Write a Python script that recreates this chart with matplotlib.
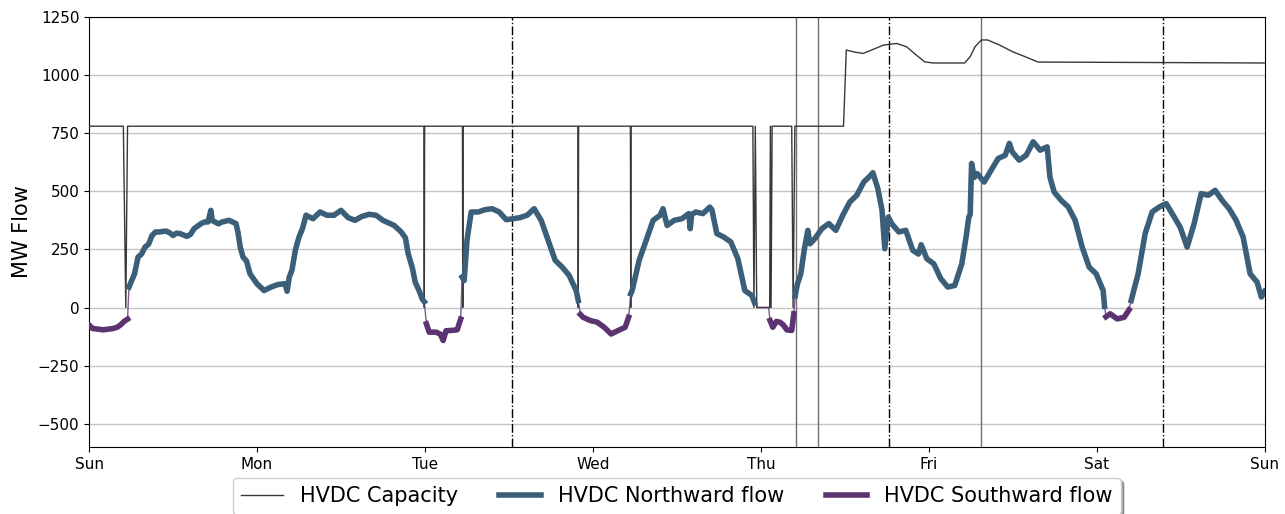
import numpy as np
import matplotlib.pyplot as plt

# hours since Sunday 00:00 and HVDC flow in MW (positive = northward)
flow_hours = [0, 0.5, 1, 2, 3, 3.5, 4, 4.5, 5, 5.5, 5.7, 6, 6.5, 7, 7.5, 8, 8.5, 9, 9.5, 10,
              11, 11.5, 12, 12.5, 13, 14, 14.5, 15, 16, 16.5, 17, 17.4, 17.6, 18, 18.5, 19, 20,
              20.5, 21, 21.3, 21.6, 22, 22.5, 23, 24, 25, 26, 27, 28, 28.3, 28.6, 29, 29.5, 30,
              30.5, 31, 32, 33, 34, 35, 36, 37, 38, 39, 40, 41, 42, 43.6, 44.6, 45.2, 45.6, 46.2,
              46.6, 47.2, 47.6, 47.9, 48.2, 48.6, 49.6, 50.2, 50.6, 51.0, 51.6, 52.6, 53.1, 53.3,
              53.6, 54.0, 54.6, 55.6, 56.6, 57.6, 58.6, 59.6, 60.6, 61.6, 62.6, 63.6, 64.6, 65.6,
              66.6, 67.6, 68.6, 69.6, 69.9, 70.2, 70.6, 71.6, 72.6, 73.6, 74.6, 75.6, 76.6, 77.1,
              77.4, 77.6, 78.6, 79.6, 80.6, 81.6, 82.0, 82.6, 83.6, 84.7, 85.7, 85.9, 86.1, 86.7,
              87.7, 88.7, 89.0, 89.7, 90.7, 91.7, 92.7, 93.7, 94.7, 95.1, 95.6, 97.1, 97.3, 97.7,
              98.2, 98.7, 99.2, 99.7, 100.4, 100.7, 100.9, 101.2, 101.7, 102.2, 102.7, 103.0,
              103.7, 104.7, 105.7, 106.7, 107.7, 108.7, 109.7, 110.7, 111.7, 112.0, 112.7, 113.3,
              113.7, 114.2, 114.7, 115.7, 116.7, 117.7, 118.5, 118.9, 119.7, 120.7, 121.7, 122.7,
              123.7, 124.7, 125.3, 125.7, 125.9, 126.1, 126.5, 126.9, 127.9, 128.9, 129.9, 130.9,
              131.5, 131.9, 132.9, 133.9, 134.9, 135.9, 136.9, 137.3, 137.9, 138.9, 139.9, 140.9,
              141.9, 142.9, 143.9, 144.9, 145.1, 145.3, 145.9, 146.9, 147.9, 148.6, 148.9, 149.9,
              150.9, 151.9, 152.9, 153.9, 154.9, 155.9, 156.9, 157.9, 158.9, 159.9, 160.9, 161.9,
              162.9, 163.9, 164.9, 165.9, 166.9, 167.5, 168]
flow_mw = [-75, -90, -92, -96, -92, -90, -85, -75, -60, -50, 88, 109, 145, 217, 230, 260, 272, 310, 325, 325,
           329, 322, 310, 320, 318, 306, 315, 339, 361, 368, 368, 418, 375, 368, 360, 368, 375,
           368, 361, 320, 260, 217, 200, 145, 102, 73, 88, 99, 102, 70, 130, 162, 250, 303,
           340, 397, 382, 411, 397, 397, 418, 387, 375, 392, 401, 397, 375, 353, 325, 300, 231, 170,
           109, 70, 37, 25, -70, -106, -106, -115, -142, -100, -99, -96, -50, 131,
           116, 289, 411, 411, 421, 425, 411, 378, 382, 387, 397, 425, 375, 289,
           203, 174, 138, 73, 30, -30, -42, -56, -63, -85, -114, -99, -85, -42,
           59, 73, 203, 289, 375, 397, 425, 353, 375, 382, 404, 339, 400, 411,
           404, 432, 420, 318, 303, 282, 210, 73, 52, 20, 0, 0, -56, -85,
           -60, -63, -75, -96, -99, -27, 50, 100, 145, 250, 332, 274,
           296, 339, 361, 332, 397, 454, 483, 540, 569, 580, 512, 420,
           253, 389, 360, 325, 332, 246, 230, 270, 210, 188, 124, 88,
           95, 188, 300, 389, 400, 620, 560, 576, 540, 591, 641, 655,
           706, 670, 634, 655, 713, 677, 691, 560, 497, 461, 433, 375,
           260, 174, 145, 73, 5, -40, -27, -49, -42, -10, 30, 145,
           318, 411, 432, 447, 397, 346, 260, 361, 490, 483, 504, 461,
           425, 375, 303, 145, 109, 45, 70]

# interconnector capacity (MW)
cap_hours = [0, 4.9, 5.25, 5.5, 47.85, 47.9, 47.95, 53.35, 53.4, 53.45, 69.85, 69.9, 69.95,
             77.35, 77.4, 77.45, 94.85, 95.0, 95.2, 95.4, 97.25, 97.35, 97.45, 97.6,
             100.4, 100.6, 100.85, 107.8, 108.2, 109.2, 110.6, 112.0, 113.5, 115.4, 116.8,
             118.2, 119.4, 120.6, 125.1, 125.9, 126.6, 127.5, 128.4, 130.1, 132.0, 134.0,
             135.6, 168]
cap_mw = [780, 780, 0, 780, 780, 0, 780, 780, 0, 780, 780, 0, 780,
          780, 0, 780, 780, 0, 780, 0, 0, 780, 0, 780,
          780, 0, 780, 780, 1108, 1100, 1093, 1110, 1129, 1136, 1122,
          1086, 1057, 1052, 1052, 1079, 1122, 1151, 1151, 1129, 1100, 1076,
          1056, 1052]

solid_events = [101.0, 104.1, 127.4]
dashdot_events = [60.4, 114.3, 153.5]

day_labels = ['Sun', 'Mon', 'Tue', 'Wed', 'Thu', 'Fri', 'Sat', 'Sun']

north_col = '#3c5f79'
south_col = '#5b3370'

t = np.array(flow_hours, dtype=float)
f = np.array(flow_mw, dtype=float)
north = np.where(f > 0, f, np.nan)
south = np.where(f < 0, f, np.nan)

fig = plt.figure(figsize=(12.85, 5.14), dpi=100)
ax = fig.add_axes([0.0693, 0.1304, 0.915, 0.8366])

ax.plot(cap_hours, cap_mw, color='#383838', lw=1.0, label='HVDC Capacity', zorder=3)
ax.plot(t, f, color=south_col, lw=1.0, alpha=0.8, zorder=4)
ax.plot(t, north, color=north_col, lw=4, label='HVDC Northward flow', zorder=5)
ax.plot(t, south, color=south_col, lw=4, label='HVDC Southward flow', zorder=5)

for x in solid_events:
    ax.axvline(x, color='#707070', lw=1.0, zorder=2)
for x in dashdot_events:
    ax.axvline(x, color='black', lw=1.0, ls='-.', zorder=2)

ax.set_xlim(0, 168)
ax.set_ylim(-600, 1250)
ax.set_xticks(np.arange(0, 169, 24))
ax.set_xticklabels(day_labels)
ax.set_yticks(np.arange(-500, 1251, 250))
ax.tick_params(labelsize=11)
ax.yaxis.grid(True, color='#c4c4c4', lw=1.0)
ax.set_axisbelow(True)
ax.set_ylabel('MW Flow', fontsize=15)

leg = ax.legend(loc='upper center', bbox_to_anchor=(0.5, -0.072), ncol=3, fontsize=15,
                borderaxespad=0, fancybox=True, shadow=True)

fig.savefig('out.png', dpi=100)
